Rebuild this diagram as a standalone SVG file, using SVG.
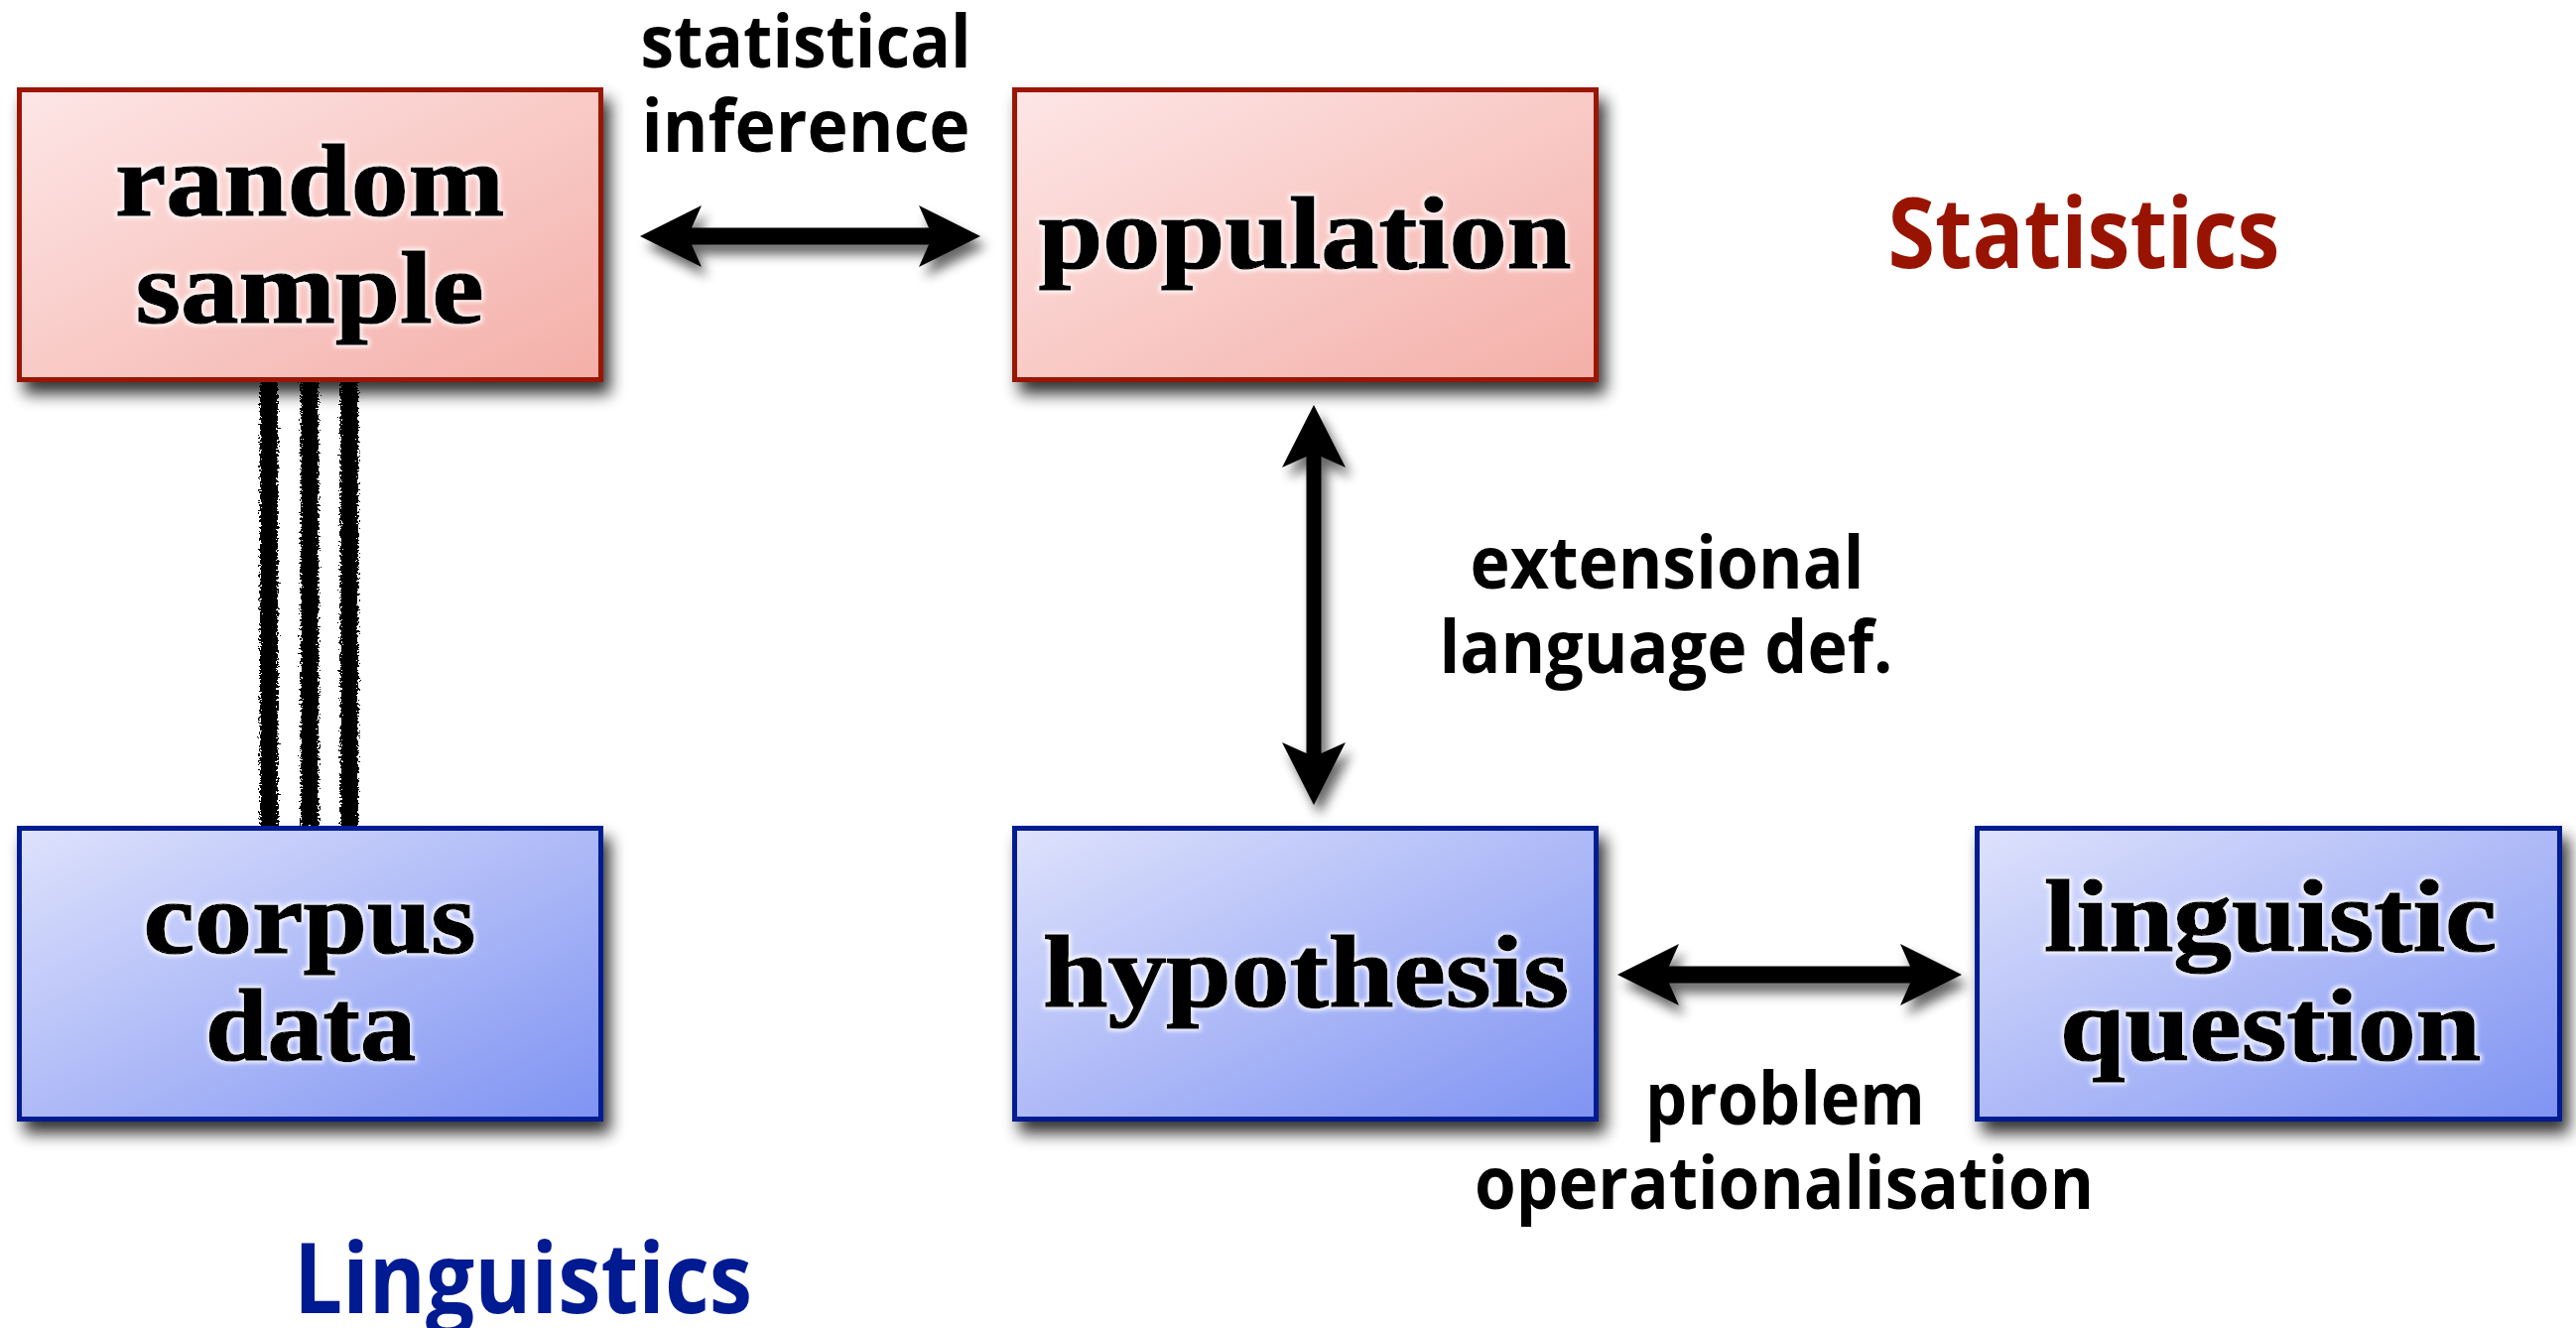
<svg xmlns="http://www.w3.org/2000/svg" width="2596" height="1338" viewBox="0 0 2596 1338">
<defs>
<linearGradient id="gRed" x1="0" y1="0" x2="1" y2="1">
<stop offset="0" stop-color="#FDE6E6"/>
<stop offset="1" stop-color="#F4AFA8"/>
</linearGradient>
<linearGradient id="gBlue" x1="0" y1="0" x2="1" y2="1">
<stop offset="0" stop-color="#DEE2FC"/>
<stop offset="1" stop-color="#7F93F2"/>
</linearGradient>
<filter id="shadow" x="-10%" y="-10%" width="130%" height="140%">
<feGaussianBlur in="SourceAlpha" stdDeviation="8"/>
<feOffset dx="7" dy="12" result="b"/>
<feComponentTransfer in="b" result="s"><feFuncA type="linear" slope="0.8"/></feComponentTransfer>
<feMerge><feMergeNode in="s"/><feMergeNode in="SourceGraphic"/></feMerge>
</filter>
<filter id="ashadow" x="-20%" y="-30%" width="150%" height="170%">
<feGaussianBlur in="SourceAlpha" stdDeviation="6"/>
<feOffset dx="6" dy="10" result="b"/>
<feComponentTransfer in="b" result="s"><feFuncA type="linear" slope="0.6"/></feComponentTransfer>
<feMerge><feMergeNode in="s"/><feMergeNode in="SourceGraphic"/></feMerge>
</filter>
<filter id="glow" x="-5%" y="-20%" width="110%" height="140%">
<feMorphology in="SourceAlpha" operator="dilate" radius="2" result="d"/>
<feGaussianBlur in="d" stdDeviation="2" result="db"/>
<feFlood flood-color="#ffffff" flood-opacity="0.9"/>
<feComposite in2="db" operator="in" result="w"/>
<feMerge><feMergeNode in="w"/><feMergeNode in="SourceGraphic"/></feMerge>
</filter>
<filter id="rough" x="-50%" y="-2%" width="200%" height="104%">
<feTurbulence type="fractalNoise" baseFrequency="0.45" numOctaves="2" seed="3" result="n"/>
<feDisplacementMap in="SourceGraphic" in2="n" scale="9" xChannelSelector="R" yChannelSelector="G"/>
</filter>
</defs>
<style>
.red{fill:url(#gRed);stroke:#9A1404;stroke-width:5}
.blue{fill:url(#gBlue);stroke:#001A92;stroke-width:5}
.nl{font-family:"Liberation Serif","DejaVu Serif",serif;font-weight:bold;font-size:104px;fill:#000;stroke:#000;stroke-width:1.6;text-anchor:middle}
.lbl{font-family:"Open Sans","Noto Sans",sans-serif;font-weight:700;font-size:74px;fill:#000;text-anchor:middle}
.sec{font-family:"Open Sans","Noto Sans",sans-serif;font-weight:700;font-size:98px;text-anchor:middle}
.arr{fill:#000}
.rl{stroke:#000;stroke-width:18;fill:none}
</style>

<g id="connectors">
<g id="sample-corpus" filter="url(#rough)">
<line class="rl" x1="271" y1="379" x2="271" y2="833"/>
<line class="rl" x1="312" y1="379" x2="312" y2="833"/>
<line class="rl" x1="352" y1="379" x2="352" y2="833"/>
</g>
<g id="sample-population" filter="url(#ashadow)">
<path class="arr" d="M645,238 L707,207 L697,229.5 L936,229.5 L926,207 L988,238 L926,269 L936,246.5 L697,246.5 L707,269 Z"/>
</g>
<g id="population-hypothesis" filter="url(#ashadow)">
<path class="arr" d="M1324,408 L1356,471 L1331.5,460 L1331.5,759 L1356,748 L1324,811 L1292,748 L1316.5,759 L1316.5,460 L1292,471 Z"/>
</g>
<g id="hypothesis-question" filter="url(#ashadow)">
<path class="arr" d="M1630,982 L1692,951 L1682,973.5 L1925,973.5 L1915,951 L1977,982 L1915,1013 L1925,990.5 L1682,990.5 L1692,1013 Z"/>
</g>
<text class="lbl" x="812" y="68" textLength="333" lengthAdjust="spacingAndGlyphs">statistical</text>
<text class="lbl" x="812" y="153" textLength="331" lengthAdjust="spacingAndGlyphs">inference</text>
<text class="lbl" x="1680" y="593" textLength="397" lengthAdjust="spacingAndGlyphs">extensional</text>
<text class="lbl" x="1679" y="678" textLength="457" lengthAdjust="spacingAndGlyphs">language def.</text>
<text class="lbl" x="1799" y="1133" textLength="282" lengthAdjust="spacingAndGlyphs">problem</text>
<text class="lbl" x="1798" y="1218" textLength="624" lengthAdjust="spacingAndGlyphs">operationalisation</text>
</g>

<g id="random-sample">
<rect class="red" x="19.5" y="90.5" width="586" height="292" filter="url(#shadow)"/>
<g filter="url(#glow)">
<text class="nl" x="312" y="217" textLength="392" lengthAdjust="spacingAndGlyphs">random</text>
<text class="nl" x="312" y="325" textLength="351" lengthAdjust="spacingAndGlyphs">sample</text>
</g>
</g>

<g id="population">
<rect class="red" x="1022.5" y="90.5" width="586" height="292" filter="url(#shadow)"/>
<g filter="url(#glow)">
<text class="nl" x="1315" y="270" textLength="537" lengthAdjust="spacingAndGlyphs">population</text>
</g>
</g>

<g id="corpus-data">
<rect class="blue" x="19.5" y="834.5" width="586" height="293" filter="url(#shadow)"/>
<g filter="url(#glow)">
<text class="nl" x="312" y="960" textLength="335" lengthAdjust="spacingAndGlyphs">corpus</text>
<text class="nl" x="313" y="1068" textLength="212" lengthAdjust="spacingAndGlyphs">data</text>
</g>
</g>

<g id="hypothesis">
<rect class="blue" x="1022.5" y="834.5" width="586" height="293" filter="url(#shadow)"/>
<g filter="url(#glow)">
<text class="nl" x="1316" y="1014" textLength="530" lengthAdjust="spacingAndGlyphs">hypothesis</text>
</g>
</g>

<g id="linguistic-question">
<rect class="blue" x="1992.5" y="834.5" width="587" height="293" filter="url(#shadow)"/>
<g filter="url(#glow)">
<text class="nl" x="2288" y="958" textLength="456" lengthAdjust="spacingAndGlyphs">linguistic</text>
<text class="nl" x="2288" y="1068" textLength="424" lengthAdjust="spacingAndGlyphs">question</text>
</g>
</g>

<text id="statistics" class="sec" x="2100" y="270" fill="#981400" textLength="395" lengthAdjust="spacingAndGlyphs">Statistics</text>
<text id="linguistics" class="sec" x="527" y="1323" fill="#001A92" textLength="462" lengthAdjust="spacingAndGlyphs">Linguistics</text>
</svg>
